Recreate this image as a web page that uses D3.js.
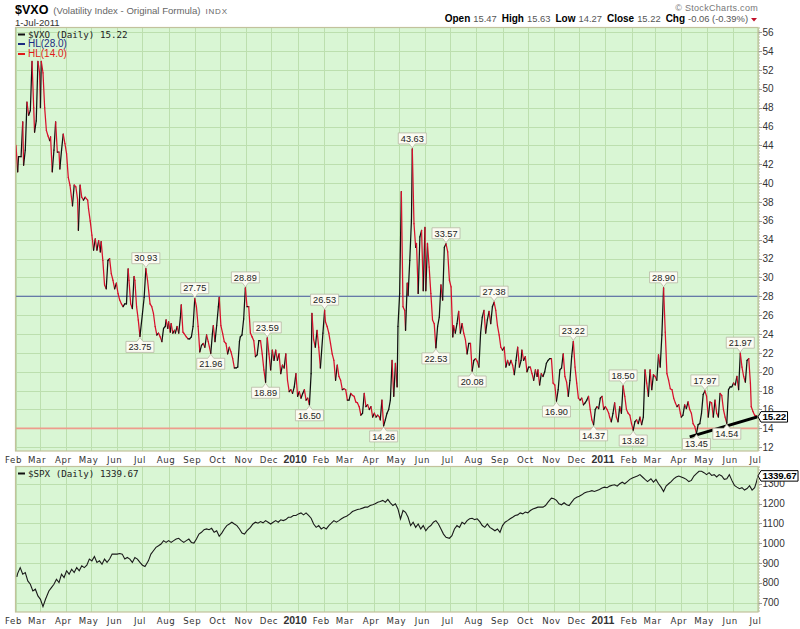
<!DOCTYPE html>
<html>
<head>
<meta charset="utf-8">
<script src="https://cdn.jsdelivr.net/npm/d3@7"></script>
<style>
  body { margin: 0; background: #fff; }
  svg { display: block; font-family: "Liberation Sans", Arial, sans-serif; }
</style>
</head>
<body>
<svg id="chart" width="800" height="629"></svg>
<script>
// ── DATA ─────────────────────────────────────────────────────────────────────
const xDomain = ['2009-02-01', '2011-07-01'];

const vxoTicks = [12, 14, 16, 18, 20, 22, 24, 26, 28, 30, 32, 34, 36, 38, 40, 42, 44, 46, 48, 50, 52, 54, 56];
const spxTicks = [700, 800, 900, 1000, 1100, 1200, 1300];

const hlLevels = [28, 14];

const quoteFields = [
  ['Open', '15.47'], ['High', '15.63'], ['Low', '14.27'], ['Close', '15.22'], ['Chg', '-0.06 (-0.39%)']
];

const vxoData = [
  ['2009-02-01',44.0],['2009-02-03',41.2],['2009-02-04',42.8],['2009-02-07',42.8],['2009-02-09',46.5],['2009-02-10',41.9],
  ['2009-02-12',43.5],['2009-02-14',48.6],['2009-02-16',47.2],['2009-02-18',47.7],['2009-02-20',52.9],['2009-02-22',48.0],
  ['2009-02-23',45.4],['2009-02-25',46.6],['2009-02-27',52.9],['2009-03-01',51.7],['2009-03-02',48.0],['2009-03-03',52.9],
  ['2009-03-05',51.7],['2009-03-07',48.0],['2009-03-09',45.6],['2009-03-11',45.0],['2009-03-13',44.5],['2009-03-14',44.9],
  ['2009-03-16',41.2],['2009-03-18',43.5],['2009-03-20',46.5],['2009-03-22',43.3],['2009-03-24',43.3],['2009-03-25',41.5],
  ['2009-03-27',43.5],['2009-03-29',45.2],['2009-03-31',44.2],['2009-04-02',43.1],['2009-04-04',40.6],['2009-04-06',39.8],
  ['2009-04-09',37.6],['2009-04-11',39.8],['2009-04-13',39.6],['2009-04-15',38.3],['2009-04-16',35.0],['2009-04-18',39.8],
  ['2009-04-20',38.5],['2009-04-22',38.2],['2009-04-24',38.5],['2009-04-27',38.2],['2009-04-28',37.3],['2009-04-30',36.0],
  ['2009-05-02',34.5],['2009-05-04',32.9],['2009-05-06',34.1],['2009-05-08',32.9],['2009-05-10',33.9],['2009-05-12',32.7],
  ['2009-05-13',33.8],['2009-05-15',31.8],['2009-05-17',29.2],['2009-05-19',28.8],['2009-05-21',31.8],['2009-05-23',32.0],
  ['2009-05-25',30.4],['2009-05-27',29.7],['2009-05-29',28.8],['2009-05-31',29.4],['2009-06-02',28.3],['2009-06-04',27.6],
  ['2009-06-06',27.2],['2009-06-08',26.9],['2009-06-10',27.2],['2009-06-12',27.2],['2009-06-14',30.9],['2009-06-15',29.7],
  ['2009-06-17',27.2],['2009-06-19',26.7],['2009-06-21',30.1],['2009-06-22',29.7],['2009-06-24',26.9],['2009-06-26',25.5],
  ['2009-06-28',23.75],['2009-07-01',26.2],['2009-07-03',27.9],['2009-07-05',30.93],['2009-07-07',29.7],['2009-07-10',27.2],
  ['2009-07-12',26.9],['2009-07-14',26.2],['2009-07-16',24.8],['2009-07-18',23.9],['2009-07-20',24.1],['2009-07-22',23.7],
  ['2009-07-24',23.2],['2009-07-26',24.6],['2009-07-28',24.8],['2009-07-29',25.5],['2009-07-31',24.6],['2009-08-01',25.3],
  ['2009-08-03',24.2],['2009-08-04',25.1],['2009-08-06',24.1],['2009-08-08',24.4],['2009-08-09',24.1],['2009-08-11',24.8],
  ['2009-08-13',24.1],['2009-08-15',25.8],['2009-08-16',27.1],['2009-08-18',24.2],['2009-08-19',24.1],['2009-08-22',23.7],
  ['2009-08-24',23.5],['2009-08-26',23.5],['2009-08-28',23.7],['2009-08-30',24.8],['2009-09-01',27.75],['2009-09-03',26.9],
  ['2009-09-05',24.8],['2009-09-07',22.1],['2009-09-09',22.8],['2009-09-11',23.0],['2009-09-13',22.6],['2009-09-15',23.9],
  ['2009-09-17',23.2],['2009-09-20',21.96],['2009-09-22',24.1],['2009-09-23',24.9],['2009-09-25',23.2],['2009-09-27',24.9],
  ['2009-09-29',26.9],['2009-09-30',27.9],['2009-10-02',24.9],['2009-10-04',24.1],['2009-10-06',23.2],['2009-10-08',23.0],
  ['2009-10-10',21.9],['2009-10-12',22.6],['2009-10-14',22.1],['2009-10-16',21.4],['2009-10-18',20.4],['2009-10-20',20.4],
  ['2009-10-22',20.5],['2009-10-24',23.2],['2009-10-25',23.7],['2009-10-27',23.9],['2009-10-29',25.6],['2009-10-31',28.89],
  ['2009-11-02',26.9],['2009-11-04',26.9],['2009-11-06',24.1],['2009-11-08',23.7],['2009-11-10',23.3],['2009-11-12',21.6],
  ['2009-11-14',21.8],['2009-11-16',23.3],['2009-11-18',23.3],['2009-11-20',21.9],['2009-11-22',20.2],['2009-11-24',18.89],
  ['2009-11-26',23.59],['2009-11-28',21.9],['2009-11-30',20.2],['2009-12-02',22.3],['2009-12-04',21.2],['2009-12-06',22.3],
  ['2009-12-08',21.2],['2009-12-10',21.9],['2009-12-12',19.8],['2009-12-14',20.7],['2009-12-16',20.4],['2009-12-18',21.9],
  ['2009-12-20',19.1],['2009-12-22',17.9],['2009-12-24',18.1],['2009-12-26',17.7],['2009-12-28',18.4],['2009-12-30',19.8],
  ['2010-01-01',17.4],['2010-01-03',17.9],['2010-01-05',17.2],['2010-01-07',17.7],['2010-01-09',18.1],['2010-01-11',17.0],
  ['2010-01-13',17.2],['2010-01-15',16.50],['2010-01-17',19.8],['2010-01-18',26.2],['2010-01-20',23.4],['2010-01-22',22.6],
  ['2010-01-24',24.4],['2010-01-26',22.6],['2010-01-28',20.4],['2010-01-31',24.1],['2010-02-02',26.53],['2010-02-03',25.3],
  ['2010-02-05',24.8],['2010-02-07',24.1],['2010-02-09',23.0],['2010-02-11',21.9],['2010-02-13',21.2],['2010-02-15',19.1],
  ['2010-02-17',20.7],['2010-02-19',19.5],['2010-02-21',19.1],['2010-02-23',18.1],['2010-02-25',18.2],['2010-02-27',18.1],
  ['2010-03-01',17.0],['2010-03-03',17.0],['2010-03-05',17.7],['2010-03-07',17.5],['2010-03-09',17.4],['2010-03-11',16.8],
  ['2010-03-13',16.7],['2010-03-15',16.3],['2010-03-17',15.4],['2010-03-19',15.6],['2010-03-21',17.7],['2010-03-23',16.3],
  ['2010-03-25',16.5],['2010-03-27',16.0],['2010-03-29',16.3],['2010-03-31',15.2],['2010-04-02',15.6],['2010-04-04',15.2],
  ['2010-04-06',15.4],['2010-04-08',15.2],['2010-04-09',14.9],['2010-04-11',17.0],['2010-04-13',14.26],['2010-04-15',14.9],
  ['2010-04-17',15.6],['2010-04-19',16.0],['2010-04-21',17.0],['2010-04-23',21.2],['2010-04-25',17.4],['2010-04-27',20.9],
  ['2010-04-29',18.4],['2010-04-30',24.8],['2010-05-02',28.3],['2010-05-04',39.1],['2010-05-06',26.9],['2010-05-08',26.5],
  ['2010-05-09',24.4],['2010-05-11',29.4],['2010-05-12',28.1],['2010-05-14',31.8],['2010-05-16',36.1],['2010-05-17',43.63],
  ['2010-05-19',35.7],['2010-05-21',33.2],['2010-05-22',33.6],['2010-05-24',28.3],['2010-05-26',34.3],['2010-05-28',35.0],
  ['2010-05-30',28.6],['2010-06-01',35.3],['2010-06-02',28.6],['2010-06-04',33.6],['2010-06-06',31.1],['2010-06-08',28.3],
  ['2010-06-10',25.5],['2010-06-12',25.1],['2010-06-14',22.53],['2010-06-16',24.8],['2010-06-18',25.8],['2010-06-20',29.2],
  ['2010-06-22',27.6],['2010-06-24',33.2],['2010-06-26',33.57],['2010-06-28',32.7],['2010-06-30',29.7],['2010-07-02',29.0],
  ['2010-07-04',23.7],['2010-07-05',24.9],['2010-07-07',24.1],['2010-07-09',25.1],['2010-07-11',26.4],['2010-07-13',24.1],
  ['2010-07-15',25.1],['2010-07-17',24.1],['2010-07-19',23.4],['2010-07-21',21.9],['2010-07-23',23.0],['2010-07-25',23.0],
  ['2010-07-27',20.08],['2010-07-29',21.2],['2010-07-31',21.4],['2010-08-02',21.1],['2010-08-04',20.5],['2010-08-06',24.1],
  ['2010-08-08',25.8],['2010-08-10',26.5],['2010-08-12',24.1],['2010-08-14',25.5],['2010-08-16',26.4],['2010-08-18',25.1],
  ['2010-08-20',26.9],['2010-08-22',27.38],['2010-08-24',26.5],['2010-08-26',24.9],['2010-08-28',23.9],['2010-08-30',22.6],
  ['2010-09-01',22.3],['2010-09-03',22.6],['2010-09-05',20.5],['2010-09-07',21.2],['2010-09-09',20.7],['2010-09-11',21.2],
  ['2010-09-13',20.7],['2010-09-15',19.7],['2010-09-17',21.2],['2010-09-19',22.6],['2010-09-21',20.5],['2010-09-23',21.2],
  ['2010-09-24',22.3],['2010-09-26',21.2],['2010-09-28',21.6],['2010-09-30',20.0],['2010-10-02',20.5],['2010-10-04',20.5],
  ['2010-10-06',19.8],['2010-10-08',19.1],['2010-10-10',20.2],['2010-10-12',19.5],['2010-10-13',20.2],['2010-10-15',18.6],
  ['2010-10-17',19.8],['2010-10-19',19.5],['2010-10-21',20.0],['2010-10-23',20.9],['2010-10-25',21.2],['2010-10-27',21.4],
  ['2010-10-29',21.4],['2010-10-31',18.8],['2010-11-02',18.6],['2010-11-04',16.90],['2010-11-06',18.1],['2010-11-08',20.2],
  ['2010-11-10',20.4],['2010-11-12',21.9],['2010-11-14',19.5],['2010-11-16',18.9],['2010-11-18',17.4],['2010-11-20',19.1],
  ['2010-11-22',21.6],['2010-11-24',23.22],['2010-11-26',20.5],['2010-11-28',18.8],['2010-11-30',17.2],['2010-12-02',17.0],
  ['2010-12-04',17.2],['2010-12-06',16.5],['2010-12-08',16.7],['2010-12-10',17.0],['2010-12-12',17.4],['2010-12-14',16.0],
  ['2010-12-16',14.9],['2010-12-18',14.37],['2010-12-20',16.0],['2010-12-22',16.3],['2010-12-24',16.1],['2010-12-26',17.2],
  ['2010-12-28',17.4],['2010-12-30',16.0],['2011-01-01',16.3],['2011-01-03',16.0],['2011-01-05',15.6],['2011-01-06',15.2],
  ['2011-01-08',14.7],['2011-01-10',15.6],['2011-01-12',16.7],['2011-01-14',15.2],['2011-01-16',14.7],['2011-01-18',16.3],
  ['2011-01-20',15.6],['2011-01-22',18.50],['2011-01-24',17.4],['2011-01-26',16.0],['2011-01-28',15.6],['2011-01-30',15.4],
  ['2011-02-01',14.5],['2011-02-03',13.82],['2011-02-05',14.7],['2011-02-07',14.9],['2011-02-09',14.5],['2011-02-11',15.2],
  ['2011-02-13',14.4],['2011-02-15',15.2],['2011-02-17',20.2],['2011-02-19',18.8],['2011-02-21',17.4],['2011-02-23',20.2],
  ['2011-02-25',18.1],['2011-02-27',19.7],['2011-03-01',19.5],['2011-03-03',19.1],['2011-03-05',21.8],['2011-03-07',20.5],
  ['2011-03-09',23.9],['2011-03-11',28.90],['2011-03-13',24.2],['2011-03-15',19.8],['2011-03-17',19.1],['2011-03-19',18.2],
  ['2011-03-21',18.1],['2011-03-23',17.2],['2011-03-25',16.7],['2011-03-27',16.3],['2011-03-29',16.5],['2011-03-31',15.6],
  ['2011-04-01',15.2],['2011-04-03',15.4],['2011-04-05',16.5],['2011-04-07',16.1],['2011-04-09',16.8],['2011-04-11',16.0],
  ['2011-04-13',15.6],['2011-04-15',14.5],['2011-04-17',14.2],['2011-04-19',13.45],['2011-04-21',14.4],['2011-04-23',14.5],
  ['2011-04-25',15.6],['2011-04-27',17.6],['2011-04-29',17.97],['2011-05-01',17.4],['2011-05-03',15.2],['2011-05-05',16.8],
  ['2011-05-07',16.7],['2011-05-09',15.2],['2011-05-11',17.0],['2011-05-13',15.6],['2011-05-15',15.2],['2011-05-17',17.7],
  ['2011-05-19',17.5],['2011-05-21',16.0],['2011-05-23',15.2],['2011-05-25',14.54],['2011-05-27',18.1],['2011-05-29',18.4],
  ['2011-05-31',18.4],['2011-06-02',18.8],['2011-06-04',18.6],['2011-06-06',19.5],['2011-06-08',18.1],['2011-06-10',21.97],
  ['2011-06-12',20.5],['2011-06-14',19.5],['2011-06-16',18.9],['2011-06-18',21.2],['2011-06-20',21.4],['2011-06-22',18.8],
  ['2011-06-23',16.3],['2011-06-25',15.8],['2011-06-27',15.4],['2011-07-01',15.22]
];

// peak / trough annotations on the VXO line
const vxoLabels = [
  ['2009-06-28', 23.75, 'low'], ['2009-07-05', 30.93, 'high'], ['2009-09-01', 27.75, 'high'],
  ['2009-09-20', 21.96, 'low'], ['2009-10-31', 28.89, 'high'], ['2009-11-24', 18.89, 'low'],
  ['2009-11-26', 23.59, 'high'], ['2010-01-15', 16.50, 'low'], ['2010-02-02', 26.53, 'high'],
  ['2010-04-13', 14.26, 'low'], ['2010-05-17', 43.63, 'high'], ['2010-06-14', 22.53, 'low'],
  ['2010-06-26', 33.57, 'high'], ['2010-07-27', 20.08, 'low'], ['2010-08-22', 27.38, 'high'],
  ['2010-11-04', 16.90, 'low'], ['2010-11-24', 23.22, 'high'], ['2010-12-18', 14.37, 'low'],
  ['2011-01-22', 18.50, 'high'], ['2011-02-03', 13.82, 'low'], ['2011-03-11', 28.90, 'high'],
  ['2011-04-19', 13.45, 'low'], ['2011-04-29', 17.97, 'high'], ['2011-05-25', 14.54, 'low'],
  ['2011-06-10', 21.97, 'high']
];

const trendLine = [['2011-04-11', 13.1], ['2011-07-01', 15.25]];

const spxData = [
  ['2009-02-02',830],['2009-02-03',848],['2009-02-06',877],['2009-02-09',844],['2009-02-12',852],['2009-02-15',810],
  ['2009-02-18',793],['2009-02-21',759],['2009-02-24',768],['2009-02-27',734],['2009-03-02',717],['2009-03-05',680],
  ['2009-03-08',717],['2009-03-12',759],['2009-03-15',776],['2009-03-18',793],['2009-03-21',818],['2009-03-24',801],
  ['2009-03-27',844],['2009-03-30',827],['2009-04-02',861],['2009-04-05',844],['2009-04-08',869],['2009-04-11',852],
  ['2009-04-14',877],['2009-04-17',861],['2009-04-20',886],['2009-04-23',877],['2009-04-26',889],['2009-04-29',920],
  ['2009-05-02',911],['2009-05-05',933],['2009-05-08',903],['2009-05-11',911],['2009-05-14',894],['2009-05-17',920],
  ['2009-05-20',903],['2009-05-23',920],['2009-05-26',945],['2009-05-29',945],['2009-06-01',945],['2009-06-04',948],
  ['2009-06-07',945],['2009-06-10',920],['2009-06-13',928],['2009-06-16',920],['2009-06-19',903],['2009-06-22',928],
  ['2009-06-25',920],['2009-06-28',903],['2009-07-01',889],['2009-07-04',882],['2009-07-08',911],['2009-07-11',945],
  ['2009-07-14',962],['2009-07-17',979],['2009-07-20',987],['2009-07-23',996],['2009-07-26',1013],['2009-07-29',1004],
  ['2009-08-01',1013],['2009-08-04',1004],['2009-08-07',1013],['2009-08-10',1021],['2009-08-13',1025],['2009-08-16',1013],
  ['2009-08-19',1004],['2009-08-22',1013],['2009-08-25',1021],['2009-08-28',1004],['2009-08-31',1001],['2009-09-03',1021],
  ['2009-09-06',1046],['2009-09-09',1055],['2009-09-12',1068],['2009-09-15',1072],['2009-09-18',1068],['2009-09-21',1075],
  ['2009-09-24',1055],['2009-09-27',1063],['2009-09-30',1035],['2009-10-03',1051],['2009-10-06',1072],['2009-10-09',1089],
  ['2009-10-12',1097],['2009-10-15',1106],['2009-10-18',1097],['2009-10-21',1089],['2009-10-24',1072],['2009-10-27',1051],
  ['2009-10-30',1046],['2009-11-02',1063],['2009-11-06',1080],['2009-11-09',1097],['2009-11-12',1106],['2009-11-15',1101],
  ['2009-11-18',1109],['2009-11-21',1103],['2009-11-24',1114],['2009-11-27',1106],['2009-11-30',1097],['2009-12-03',1106],
  ['2009-12-06',1114],['2009-12-09',1106],['2009-12-12',1118],['2009-12-15',1114],['2009-12-18',1119],['2009-12-21',1131],
  ['2009-12-24',1131],['2009-12-27',1140],['2009-12-30',1140],['2010-01-02',1148],['2010-01-05',1153],['2010-01-08',1143],
  ['2010-01-11',1153],['2010-01-14',1140],['2010-01-17',1126],['2010-01-20',1097],['2010-01-23',1080],['2010-01-26',1089],
  ['2010-01-29',1072],['2010-02-01',1080],['2010-02-04',1072],['2010-02-07',1089],['2010-02-10',1101],['2010-02-13',1114],
  ['2010-02-16',1106],['2010-02-19',1114],['2010-02-22',1123],['2010-02-25',1131],['2010-02-28',1136],['2010-03-04',1148],
  ['2010-03-07',1160],['2010-03-10',1165],['2010-03-13',1170],['2010-03-16',1173],['2010-03-19',1177],['2010-03-22',1182],
  ['2010-03-25',1182],['2010-03-28',1190],['2010-03-31',1194],['2010-04-03',1199],['2010-04-06',1207],['2010-04-09',1210],
  ['2010-04-12',1216],['2010-04-15',1207],['2010-04-18',1221],['2010-04-21',1204],['2010-04-24',1190],['2010-04-27',1199],
  ['2010-04-30',1173],['2010-05-03',1123],['2010-05-06',1165],['2010-05-09',1156],['2010-05-12',1131],['2010-05-15',1089],
  ['2010-05-18',1106],['2010-05-21',1080],['2010-05-24',1097],['2010-05-27',1072],['2010-05-30',1089],['2010-06-02',1063],
  ['2010-06-05',1080],['2010-06-08',1089],['2010-06-11',1106],['2010-06-14',1114],['2010-06-17',1097],['2010-06-20',1072],
  ['2010-06-23',1046],['2010-06-26',1030],['2010-06-30',1025],['2010-07-03',1038],['2010-07-06',1072],['2010-07-09',1089],
  ['2010-07-12',1080],['2010-07-15',1106],['2010-07-18',1097],['2010-07-21',1114],['2010-07-24',1123],['2010-07-27',1126],
  ['2010-07-30',1119],['2010-08-02',1123],['2010-08-05',1109],['2010-08-08',1089],['2010-08-11',1080],['2010-08-14',1097],
  ['2010-08-17',1080],['2010-08-20',1072],['2010-08-23',1063],['2010-08-26',1072],['2010-08-29',1055],['2010-09-01',1089],
  ['2010-09-04',1106],['2010-09-07',1114],['2010-09-10',1123],['2010-09-13',1131],['2010-09-16',1140],['2010-09-19',1143],
  ['2010-09-22',1153],['2010-09-25',1148],['2010-09-28',1157],['2010-10-01',1153],['2010-10-04',1165],['2010-10-07',1173],
  ['2010-10-10',1177],['2010-10-13',1182],['2010-10-16',1182],['2010-10-19',1182],['2010-10-22',1190],['2010-10-25',1207],
  ['2010-10-29',1227],['2010-11-01',1224],['2010-11-04',1216],['2010-11-07',1199],['2010-11-10',1194],['2010-11-13',1204],
  ['2010-11-16',1194],['2010-11-19',1190],['2010-11-22',1207],['2010-11-25',1224],['2010-11-28',1232],['2010-12-01',1237],
  ['2010-12-04',1244],['2010-12-07',1253],['2010-12-10',1258],['2010-12-13',1261],['2010-12-16',1265],['2010-12-19',1261],
  ['2010-12-22',1266],['2010-12-25',1271],['2010-12-28',1278],['2010-12-31',1283],['2011-01-03',1280],['2011-01-06',1288],
  ['2011-01-09',1292],['2011-01-12',1295],['2011-01-15',1288],['2011-01-18',1300],['2011-01-21',1308],['2011-01-24',1300],
  ['2011-01-27',1311],['2011-01-30',1322],['2011-02-02',1329],['2011-02-05',1334],['2011-02-08',1339],['2011-02-11',1346],
  ['2011-02-14',1334],['2011-02-17',1322],['2011-02-20',1311],['2011-02-24',1325],['2011-02-27',1308],['2011-03-02',1322],
  ['2011-03-05',1300],['2011-03-08',1283],['2011-03-11',1261],['2011-03-14',1288],['2011-03-17',1300],['2011-03-20',1311],
  ['2011-03-23',1325],['2011-03-26',1334],['2011-03-29',1339],['2011-04-01',1334],['2011-04-04',1329],['2011-04-07',1322],
  ['2011-04-10',1311],['2011-04-13',1317],['2011-04-16',1339],['2011-04-19',1351],['2011-04-22',1363],['2011-04-25',1363],
  ['2011-04-28',1356],['2011-05-01',1346],['2011-05-04',1356],['2011-05-07',1342],['2011-05-10',1346],['2011-05-13',1334],
  ['2011-05-16',1346],['2011-05-19',1339],['2011-05-22',1322],['2011-05-25',1325],['2011-05-28',1346],['2011-05-31',1317],
  ['2011-06-03',1292],['2011-06-06',1283],['2011-06-09',1275],['2011-06-12',1280],['2011-06-15',1268],['2011-06-18',1276],
  ['2011-06-21',1290],['2011-06-24',1268],['2011-06-27',1280],['2011-06-29',1307],['2011-07-01',1339.67]
];

// ── STYLE ────────────────────────────────────────────────────────────────────
const PLOT_BG    = '#d9f6d4';
const GRID       = '#bcdfae';
const BORDER     = '#c2c29c';
const UP_COLOR   = '#111111';
const DOWN_COLOR = '#d8102c';
const HL_COLOR   = { 28: '#4a58a4', 14: '#ee9c8c' };
const TEXT       = '#333';

const PANEL_L = 15.5, PANEL_R = 758;
const TOP = { y0: 27.5, y1: 451 };
const BOT = { y0: 466.5, y1: 612 };

const parse = d3.timeParse('%Y-%m-%d');
const vxo = vxoData.map(([d, v]) => ({ date: parse(d), v }));
const spx = spxData.map(([d, v]) => ({ date: parse(d), v }));

const svg = d3.select('#chart');

// ── SCALES ───────────────────────────────────────────────────────────────────
const x = d3.scaleTime()
  .domain(xDomain.map(parse))
  .range([16, 758]);

const yTop = d3.scaleLinear().domain([11.6, 56.5]).range([TOP.y1, TOP.y0]);
const yBot = d3.scaleLinear().domain([653, 1387]).range([BOT.y1, BOT.y0]);

const months = x.ticks(d3.timeMonth.every(1));

// ── PANEL FRAME ──────────────────────────────────────────────────────────────
function drawPanel(p, y, ticks, id) {
  const g = svg.append('g');
  g.append('rect')
    .attr('x', PANEL_L).attr('y', p.y0)
    .attr('width', PANEL_R - PANEL_L).attr('height', p.y1 - p.y0)
    .attr('fill', PLOT_BG);

  svg.append('defs').append('clipPath').attr('id', id)
    .append('rect')
      .attr('x', PANEL_L).attr('y', p.y0)
      .attr('width', PANEL_R - PANEL_L).attr('height', p.y1 - p.y0);

  // horizontal grid
  g.selectAll('.hgrid').data(ticks).join('line')
    .attr('x1', PANEL_L).attr('x2', PANEL_R)
    .attr('y1', d => Math.round(y(d)) + 0.5).attr('y2', d => Math.round(y(d)) + 0.5)
    .attr('stroke', GRID).attr('stroke-width', 1);

  // vertical grid, one per month
  g.selectAll('.vgrid').data(months).join('line')
    .attr('x1', d => Math.round(x(d)) + 0.5).attr('x2', d => Math.round(x(d)) + 0.5)
    .attr('y1', p.y0).attr('y2', p.y1)
    .attr('stroke', GRID).attr('stroke-width', 1);

  // right axis: dotted spine, ticks, labels
  g.append('line')
    .attr('x1', PANEL_R + 1.5).attr('x2', PANEL_R + 1.5)
    .attr('y1', p.y0).attr('y2', p.y1)
    .attr('stroke', '#b0b0a0').attr('stroke-dasharray', '1,2');
  g.selectAll('.rtick').data(ticks).join('line')
    .attr('x1', PANEL_R).attr('x2', PANEL_R + 4)
    .attr('y1', d => Math.round(y(d)) + 0.5).attr('y2', d => Math.round(y(d)) + 0.5)
    .attr('stroke', '#999');
  g.selectAll('.rlab').data(ticks).join('text')
    .attr('x', PANEL_R + 4.5)
    .attr('y', d => y(d) + 3.6)
    .attr('font-size', 10)
    .attr('fill', TEXT)
    .text(d => d);

  // month labels under the panel (January shows the year, in bold)
  const isYear = d => d.getMonth() === 0;
  g.selectAll('.mlab').data(months).join('text')
    .attr('x', d => x(d) - 2.5)
    .attr('y', p.y1 + 12)
    .attr('text-anchor', 'middle')
    .attr('fill', TEXT)
    .attr('font-family', d => isYear(d) ? '"Liberation Sans", Arial, sans-serif' : '"DejaVu Sans", Verdana, sans-serif')
    .attr('font-weight', d => isYear(d) ? 'bold' : 'normal')
    .attr('font-size', d => isYear(d) ? 10.5 : 8.6)
    .attr('letter-spacing', d => isYear(d) ? 0 : 0.6)
    .text(d => isYear(d) ? d3.timeFormat('%Y')(d) : d3.timeFormat('%b')(d));

  return g;
}

function drawBorder(p) {
  svg.append('rect')
    .attr('x', PANEL_L).attr('y', p.y0)
    .attr('width', PANEL_R - PANEL_L).attr('height', p.y1 - p.y0)
    .attr('fill', 'none').attr('stroke', BORDER).attr('stroke-width', 1.2);
}

drawPanel(TOP, yTop, vxoTicks, 'clip-top');
drawPanel(BOT, yBot, spxTicks, 'clip-bot');

// ── TOP PANEL: VXO ───────────────────────────────────────────────────────────
const topG = svg.append('g').attr('clip-path', 'url(#clip-top)');

topG.selectAll('.hl').data(hlLevels).join('line')
  .attr('x1', PANEL_L).attr('x2', PANEL_R)
  .attr('y1', d => yTop(d)).attr('y2', d => yTop(d))
  .attr('stroke', d => HL_COLOR[d])
  .attr('stroke-width', d => d === 14 ? 1.6 : 1.1);

// colour each step by direction: black when rising, red when falling
const steps = d3.pairs(vxo);
topG.selectAll('.seg').data(steps).join('line')
  .attr('x1', d => x(d[0].date)).attr('y1', d => yTop(d[0].v))
  .attr('x2', d => x(d[1].date)).attr('y2', d => yTop(d[1].v))
  .attr('stroke', d => d[1].v >= d[0].v ? UP_COLOR : DOWN_COLOR)
  .attr('stroke-width', 1.25)
  .attr('stroke-linecap', 'round');

topG.append('path')
  .datum(trendLine.map(([d, v]) => ({ date: parse(d), v })))
  .attr('d', d3.line().x(d => x(d.date)).y(d => yTop(d.v)))
  .attr('stroke', '#000').attr('stroke-width', 3).attr('fill', 'none');

// callout labels
const labelG = svg.append('g');
vxoLabels.forEach(([d, v, kind]) => {
  const px = x(parse(d)), py = yTop(v);
  const t = labelG.append('text')
    .attr('font-size', 9.2).attr('fill', '#222')
    .attr('text-anchor', 'middle')
    .text(v.toFixed(2));
  const w = t.node().getComputedTextLength() + 5, h = 11;
  const bx = px - w / 2;
  let by, path;
  if (kind === 'high') {
    by = py - 5 - h;
    path = `M${bx},${by}H${bx + w}V${by + h}H${px + 3}L${px},${py - 1}L${px - 3},${by + h}H${bx}Z`;
  } else {
    by = py + 5;
    path = `M${bx},${by + h}H${bx + w}V${by}H${px + 3}L${px},${py + 1}L${px - 3},${by}H${bx}Z`;
  }
  labelG.insert('path', 'text')
    .attr('d', path)
    .attr('fill', '#fbfbf2').attr('stroke', '#b8b8a4').attr('stroke-width', 0.8);
  t.attr('x', px).attr('y', by + h - 2.2);
});

// ── BOTTOM PANEL: SPX ────────────────────────────────────────────────────────
const botG = svg.append('g').attr('clip-path', 'url(#clip-bot)');
botG.append('path')
  .datum(spx)
  .attr('d', d3.line().x(d => x(d.date)).y(d => yBot(d.v)))
  .attr('fill', 'none').attr('stroke', '#1a1a1a').attr('stroke-width', 1.1);

drawBorder(TOP);
drawBorder(BOT);

// ── LEGENDS ──────────────────────────────────────────────────────────────────
function legendRow(y, color, label, mono) {
  svg.append('line')
    .attr('x1', 18).attr('x2', 25).attr('y1', y - 3).attr('y2', y - 3)
    .attr('stroke', color).attr('stroke-width', 2);
  svg.append('text')
    .attr('x', 28).attr('y', y)
    .attr('font-family', mono ? '"DejaVu Sans Mono", monospace' : null)
    .attr('font-size', mono ? 9.2 : 10)
    .attr('fill', mono ? '#222' : color)
    .text(label);
}
const lastVxo = vxo[vxo.length - 1].v;
const lastSpx = spx[spx.length - 1].v;
legendRow(37.5, '#111', `$VXO (Daily) ${lastVxo.toFixed(2)}`, true);
legendRow(47, '#1c2a80', `HL(${hlLevels[0].toFixed(1)})`, false);
legendRow(57, '#e01a1a', `HL(${hlLevels[1].toFixed(1)})`, false);
legendRow(476.5, '#111', `$SPX (Daily) ${lastSpx.toFixed(2)}`, true);

// ── LAST-VALUE TAGS ON THE RIGHT AXIS ────────────────────────────────────────
function endTag(yPos, label) {
  const g = svg.append('g');
  const t = g.append('text')
    .attr('font-size', 9.8).attr('font-weight', 'bold').attr('fill', '#000')
    .attr('letter-spacing', -0.2)
    .text(label);
  const w = t.node().getComputedTextLength() + 3, h = 10.5;
  const x0 = PANEL_R + 3;
  g.insert('path', 'text')
    .attr('d', `M${PANEL_R},${yPos}L${x0},${yPos - h / 2}H${x0 + w}V${yPos + h / 2}H${x0}Z`)
    .attr('fill', '#fff').attr('stroke', '#000').attr('stroke-width', 1);
  t.attr('x', x0 + 1.5).attr('y', yPos + 3.6);
}
endTag(yTop(lastVxo), lastVxo.toFixed(2));
endTag(yBot(lastSpx), lastSpx.toFixed(2));

// ── HEADER ───────────────────────────────────────────────────────────────────
const head = svg.append('text').attr('x', 15).attr('y', 14);
head.append('tspan').attr('font-weight', 'bold').attr('font-size', 12.5).attr('fill', '#000').text('$VXO');
head.append('tspan').attr('dx', 5).attr('font-size', 9.6).attr('fill', '#666').text('(Volatility Index - Original Formula)');
head.append('tspan').attr('dx', 5).attr('font-size', 8).attr('letter-spacing', 0.8).attr('fill', '#666').text('INDX');

svg.append('text').attr('x', 15).attr('y', 25.5)
  .attr('font-size', 9.6).attr('fill', TEXT).text('1-Jul-2011');

svg.append('text').attr('x', 758).attr('y', 10.5).attr('text-anchor', 'end')
  .attr('font-size', 9).attr('fill', '#777').attr('letter-spacing', 0.3)
  .text('\u00a9 StockCharts.com');

const quote = svg.append('text').attr('x', 748).attr('y', 22).attr('text-anchor', 'end');
quoteFields.forEach(([k, v], i) => {
  quote.append('tspan').attr('dx', i ? 5 : 0).attr('font-weight', 'bold').attr('font-size', 10).attr('fill', '#000').text(k);
  quote.append('tspan').attr('dx', 3).attr('font-size', 9.4).attr('fill', '#555').text(v);
});
svg.append('path')
  .attr('d', 'M751,18H757L754,21.5Z')
  .attr('fill', '#c0102a');
</script>
</body>
</html>
